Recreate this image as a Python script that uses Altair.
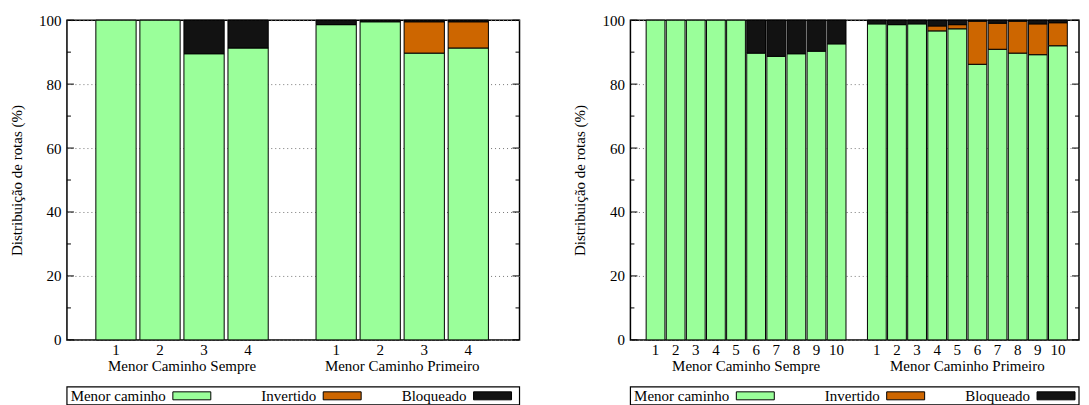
import altair as alt
import pandas as pd

cats = ["Menor caminho", "Invertido", "Bloqueado"]
colors = ["#9AFF9A", "#CD6600", "#121212"]
groups = ["Menor Caminho Sempre", "Menor Caminho Primeiro"]
TITLE = "Distribuição de rotas (%)"
FONT = "Liberation Serif"

# Left panel: 4 configurations per group
left_labels = ["1", "2", "3", "4"]
left_mcs_menor = [100, 100, 89.5, 91.3]
left_mcs_inv = [0, 0, 0, 0]
left_mcs_bloq = [0, 0, 10.5, 8.7]
left_mcp_menor = [98.6, 99.5, 89.7, 91.3]
left_mcp_inv = [0, 0, 9.8, 8.2]
left_mcp_bloq = [1.4, 0.5, 0.5, 0.5]

# Right panel: 10 configurations per group
right_labels = ["1", "2", "3", "4", "5", "6", "7", "8", "9", "10"]
right_mcs_menor = [100, 100, 100, 100, 100, 89.7, 88.7, 89.5, 90.3, 92.6]
right_mcs_inv = [0, 0, 0, 0, 0, 0, 0, 0, 0, 0]
right_mcs_bloq = [0, 0, 0, 0, 0, 10.3, 11.3, 10.5, 9.7, 7.4]
right_mcp_menor = [98.85, 98.6, 98.85, 96.65, 97.3, 86.2, 90.9, 89.7, 89.2, 92.0]
right_mcp_inv = [0, 0, 0, 1.55, 1.3, 13.5, 8.15, 10.0, 9.65, 7.2]
right_mcp_bloq = [1.15, 1.4, 1.15, 1.8, 1.4, 0.3, 0.95, 0.3, 1.15, 0.8]

major_ticks = [0, 20, 40, 60, 80, 100]
minor_ticks = [10, 30, 50, 70, 90]


def yaxis():
    return alt.Axis(values=major_ticks, grid=True, gridDash=[1, 3],
                    gridColor="#777", gridWidth=1, ticks=False, domain=False,
                    labelPadding=6, titlePadding=14, labelFontSize=15,
                    titleFontSize=15, titleFontWeight="normal",
                    labelColor="black", titleColor="black",
                    labelFont=FONT, titleFont=FONT)


def build(labels, series_by_group, width, xmax, bar_px, height=320):
    n = len(labels)
    rows, lab_rows, grp_rows = [], [], []
    for g, (gname, series) in enumerate(zip(groups, series_by_group)):
        start = 1 + g * (n + 1)
        for i, lab in enumerate(labels):
            pos = start + i
            for k, cat in enumerate(cats):
                v = series[k][i]
                if v > 0:
                    rows.append(dict(pos=pos, cat=cat, ord=k, value=v))
            lab_rows.append(dict(pos=pos, lab=lab))
        grp_rows.append(dict(pos=start + (n - 1) / 2, grp=gname))
    df = pd.DataFrame(rows)
    xs = alt.Scale(domain=[0, xmax], nice=False, zero=False)
    ys = alt.Scale(domain=[0, 100], nice=False)

    bars = alt.Chart(df).mark_bar(stroke="black", strokeWidth=1, size=bar_px).encode(
        x=alt.X("pos:Q", scale=xs, axis=None),
        y=alt.Y("value:Q", stack="zero", scale=ys, title=TITLE, axis=yaxis()),
        color=alt.Color("cat:N", scale=alt.Scale(domain=cats, range=colors), legend=None),
        order=alt.Order("ord:Q"),
    )

    layers = [bars]
    for vals, ln in ((major_ticks, 7), (minor_ticks, 4)):
        tdf = pd.DataFrame({"value": vals})
        layers.append(alt.Chart(tdf).mark_rule(color="black", strokeWidth=1).encode(
            y=alt.Y("value:Q", scale=ys, title=TITLE, axis=yaxis()),
            x=alt.value(0), x2=alt.value(ln)))
        layers.append(alt.Chart(tdf).mark_rule(color="black", strokeWidth=1).encode(
            y=alt.Y("value:Q", scale=ys, title=TITLE, axis=yaxis()),
            x=alt.value(width), x2=alt.value(width - ln)))

    layers.append(alt.Chart(pd.DataFrame(lab_rows)).mark_text(
        font=FONT, fontSize=15, baseline="middle", color="black").encode(
        x=alt.X("pos:Q", scale=xs, axis=None), y=alt.value(height + 10), text="lab:N"))
    layers.append(alt.Chart(pd.DataFrame(grp_rows)).mark_text(
        font=FONT, fontSize=15, baseline="middle", color="black").encode(
        x=alt.X("pos:Q", scale=xs, axis=None), y=alt.value(height + 26), text="grp:N"))

    one = pd.DataFrame({"a": [0]})
    layers.append(alt.Chart(one).mark_rect(fill="white", stroke="black", strokeWidth=1.2).encode(
        x=alt.value(0), x2=alt.value(width), y=alt.value(height + 47), y2=alt.value(height + 65)))
    for i, (cat, col) in enumerate(zip(cats, colors)):
        base = i * 150.5
        layers.append(alt.Chart(pd.DataFrame({"t": [cat]})).mark_text(
            font=FONT, fontSize=15, align="right", baseline="middle", color="black").encode(
            x=alt.value(base + 99), y=alt.value(height + 56), text="t:N"))
        layers.append(alt.Chart(one).mark_rect(fill=col, stroke="black", strokeWidth=1).encode(
            x=alt.value(base + 106), x2=alt.value(base + 144),
            y=alt.value(height + 52), y2=alt.value(height + 60)))

    return alt.layer(*layers).properties(width=width, height=height)


left = build(left_labels,
             [[left_mcs_menor, left_mcs_inv, left_mcs_bloq],
              [left_mcp_menor, left_mcp_inv, left_mcp_bloq]],
             width=453, xmax=10.05, bar_px=40.3)
right = build(right_labels,
              [[right_mcs_menor, right_mcs_inv, right_mcs_bloq],
               [right_mcp_menor, right_mcp_inv, right_mcp_bloq]],
              width=449, xmax=21.8, bar_px=18.8)

chart = alt.hconcat(left, right, spacing=50).properties(
    padding={"left": 0, "top": 4, "right": 0, "bottom": 0}
).configure(font=FONT).configure_view(stroke="black", strokeWidth=1.5)

chart.save("out.html", embed_options={"renderer": "svg", "actions": False})
